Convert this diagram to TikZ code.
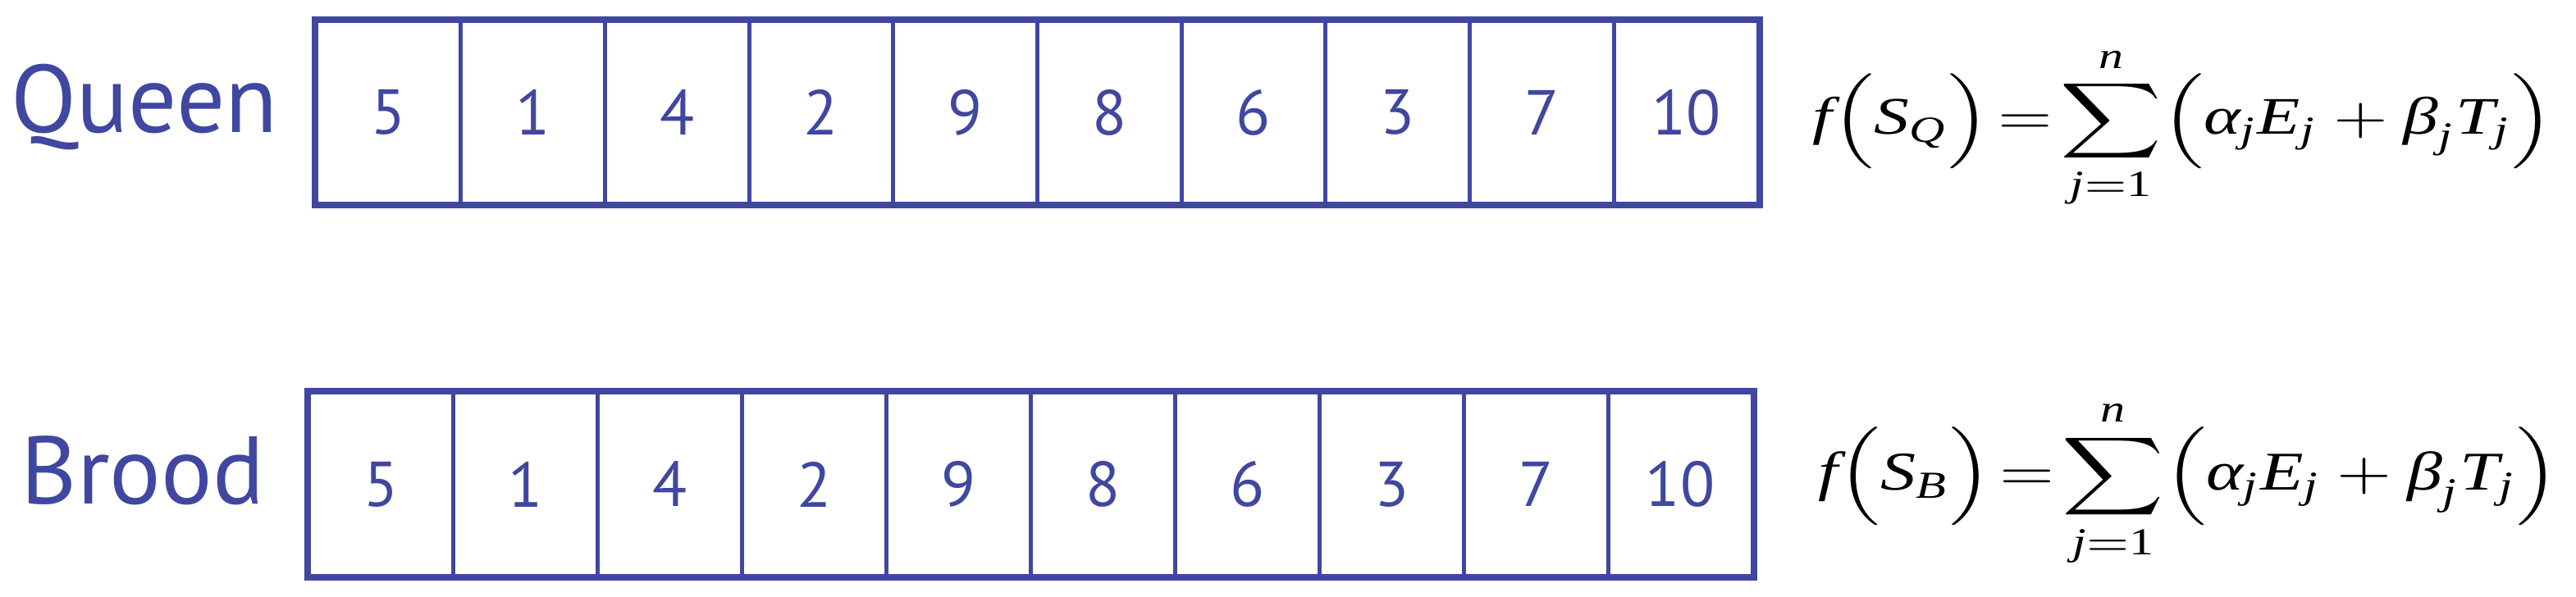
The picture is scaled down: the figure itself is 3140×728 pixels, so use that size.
\documentclass[tikz,border=0pt]{standalone}
\usepackage{fontspec}
\usepackage{amsmath}
\usepackage{graphicx}
\setmainfont{PT Sans}
\newfontfamily\tnr{Liberation Serif}
\newcommand{\ti}[1]{\text{\tnr\itshape #1}}
\newcommand{\tu}[1]{\text{\tnr #1}}
\definecolor{cblue}{RGB}{63,71,160}
\tikzset{
  cell/.style={draw=cblue, line width=1.4pt, text=cblue, minimum width=17.57mm, minimum height=22.2mm, inner sep=0pt, font=\fontsize{22}{26}\selectfont},
  outer/.style={draw=cblue, line width=1.8pt},
  rowlabel/.style={text=cblue, anchor=base west, inner sep=0pt, font=\fontsize{33.3}{40}\selectfont},
  formula/.style={anchor=north west, inner sep=0pt}
}
\begin{document}
\begin{tikzpicture}[x=0.1mm, y=-0.1mm]
\useasboundingbox (0,0) rectangle (3140,728);
% Queen row
\foreach \v [count=\i] in {5,1,4,2,9,8,6,3,7,10}
  \node[cell] (q\i) at ({386+175.7*(\i-0.5)},137) {\v};
\draw[outer] (q1.north west) rectangle (q10.south east);
\node[rowlabel] (queen) at (13,162) {Queen};
\node[formula] (fq) at (2209,55) {\resizebox*{90.3mm}{20mm}{$\displaystyle \ti{f}\Bigl(\ti{S}_{\ti{Q}}\Bigr)\!=\!\sum_{\ti{j}=\tu{1}}^{\ti{n}}\Bigl(\ti{α}_{\ti{j}}\ti{E}_{\ti{j}}+\ti{β}_{\ti{j}}\ti{T}_{\ti{j}}\Bigr)$}};
% Brood row
\foreach \v [count=\i] in {5,1,4,2,9,8,6,3,7,10}
  \node[cell, minimum width=17.59mm, minimum height=22.3mm] (b\i) at ({377+175.9*(\i-0.5)},590.5) {\v};
\draw[outer] (b1.north west) rectangle (b10.south east);
\node[rowlabel] (brood) at (25,615) {Brood};
\node[formula] (fb) at (2216,485) {\resizebox*{90.2mm}{20.7mm}{$\displaystyle \ti{f}\Bigl(\ti{S}_{\ti{B}}\Bigr)\!=\!\sum_{\ti{j}=\tu{1}}^{\ti{n}}\Bigl(\ti{α}_{\ti{j}}\ti{E}_{\ti{j}}+\ti{β}_{\ti{j}}\ti{T}_{\ti{j}}\Bigr)$}};
\end{tikzpicture}
\end{document}
